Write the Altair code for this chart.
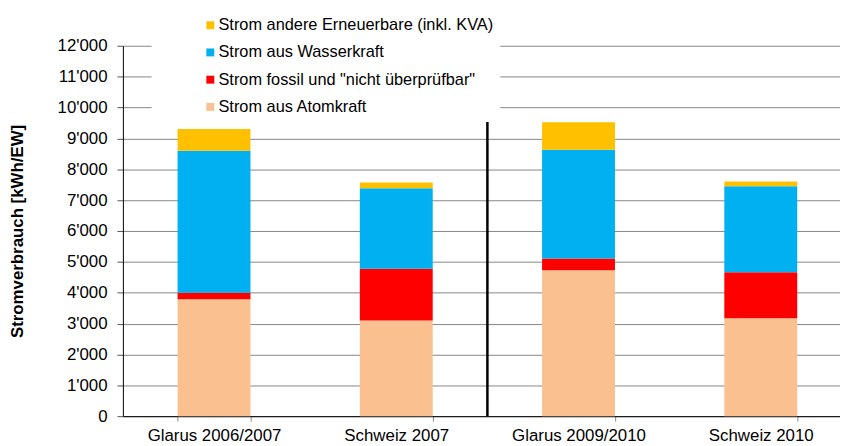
import altair as alt
import pandas as pd

categories = ["Glarus 2006/2007", "Schweiz 2007", "Glarus 2009/2010", "Schweiz 2010"]
series = [
    "Strom andere Erneuerbare (inkl. KVA)",
    "Strom aus Wasserkraft",
    "Strom fossil und \"nicht überprüfbar\"",
    "Strom aus Atomkraft",
]
colors = ["#FFC000", "#00B0F0", "#FF0000", "#FAC090"]

atom = [3790, 3100, 4730, 3170]
fossil = [210, 1680, 380, 1490]
wasser = [4600, 2600, 3520, 2790]
andere = [700, 190, 890, 150]

separator_category = ["Glarus 2009/2010"]
separator_top = [9650]

rows = []
for i, c in enumerate(categories):
    for s, vals, order in [
        (series[3], atom, 0),
        (series[2], fossil, 1),
        (series[1], wasser, 2),
        (series[0], andere, 3),
    ]:
        rows.append({"Kategorie": c, "Serie": s, "Wert": vals[i], "Ordnung": order})
df = pd.DataFrame(rows)
sep_df = pd.DataFrame({"Kategorie": separator_category, "y0": [0], "y1": separator_top})

FONT = "Liberation Sans"

# band step of ~184 px with the plot cut off at the right edge, as in the reference
xscale = alt.Scale(type="band", domain=categories, paddingInner=0.6,
                   paddingOuter=0.2674, align=0.561)
yscale = alt.Scale(domain=[0, 12000], nice=False)

xaxis = alt.Axis(title=None, labelAngle=0, labelFontSize=17, labelFont=FONT,
                 labelColor="black", tickBand="extent", tickSize=5,
                 tickColor="#888888", domainColor="black", labelPadding=7,
                 grid=False)
yaxis = alt.Axis(title="Stromverbrauch [kWh/EW]", values=list(range(0, 13000, 1000)),
                 labelExpr="replace(format(datum.value, ','), ',', \"'\")",
                 labelOverlap=False,
                 labelFontSize=17, labelFont=FONT, labelColor="black",
                 titleFontSize=17, titleFont=FONT, titleFontWeight="bold",
                 titleColor="black", titlePadding=31,
                 tickSize=6, tickColor="#555555", labelPadding=10,
                 domainColor="black", gridColor="#868686", gridWidth=1)

bars = alt.Chart(df).mark_bar().encode(
    x=alt.X("Kategorie:N", scale=xscale, sort=categories, axis=xaxis),
    y=alt.Y("sum(Wert):Q", scale=yscale, stack="zero", axis=yaxis),
    color=alt.Color("Serie:N", scale=alt.Scale(domain=series, range=colors),
                    legend=alt.Legend(title=None, orient="none", legendX=29, legendY=-35,
                                      fillColor="white", padding=6, symbolType="square",
                                      symbolSize=64, symbolStrokeWidth=0, symbolOffset=45,
                                      labelFontSize=16.5, labelFont=FONT, labelColor="black",
                                      rowPadding=10.5, labelOffset=0, labelLimit=600)),
    order=alt.Order("Ordnung:Q", sort="ascending"),
)

sep = alt.Chart(sep_df).mark_rule(color="black", strokeWidth=2.5, xOffset=-55.2).encode(
    x=alt.X("Kategorie:N", scale=xscale, sort=categories, bandPosition=0, axis=xaxis),
    y=alt.Y("y0:Q", scale=yscale, axis=yaxis),
    y2="y1:Q",
)

chart = alt.layer(bars, sep).properties(
    width=724, height=374,
    background="white",
    autosize=alt.AutoSizeParams(type="none"),
    padding={"left": 116, "top": 36, "right": 0, "bottom": 30},
).configure_view(strokeWidth=0)

chart.save("out.html", embed_options={"renderer": "svg", "actions": False})
